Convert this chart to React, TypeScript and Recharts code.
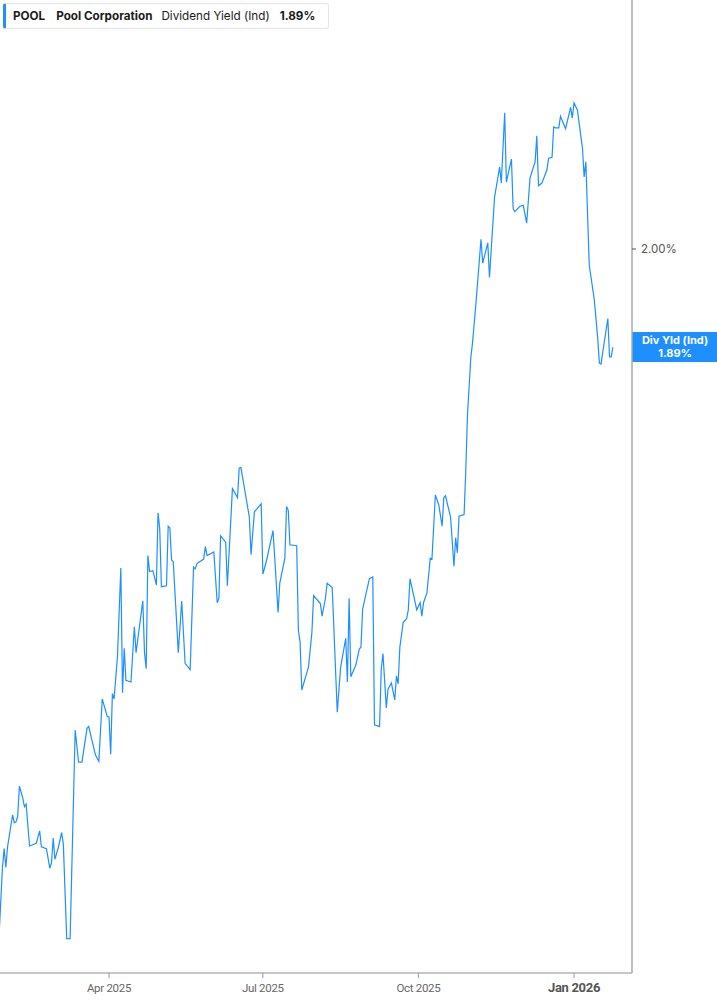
import { LineChart, Line, XAxis, YAxis, ReferenceLine } from 'recharts'

const dates = [
  '2025-01-26', '2025-01-28', '2025-01-29', '2025-01-30', '2025-01-31', '2025-02-03', '2025-02-04', '2025-02-05',
  '2025-02-06', '2025-02-07', '2025-02-09', '2025-02-10', '2025-02-11', '2025-02-13', '2025-02-17', '2025-02-19',
  '2025-02-20', '2025-02-23', '2025-02-25', '2025-02-26', '2025-02-27', '2025-02-28', '2025-03-02', '2025-03-04',
  '2025-03-05', '2025-03-07', '2025-03-09', '2025-03-12', '2025-03-14', '2025-03-16', '2025-03-19', '2025-03-20',
  '2025-03-24', '2025-03-26', '2025-03-28', '2025-03-31', '2025-04-01', '2025-04-02', '2025-04-03', '2025-04-04',
  '2025-04-06', '2025-04-08', '2025-04-09', '2025-04-10', '2025-04-11', '2025-04-14', '2025-04-16', '2025-04-17',
  '2025-04-21', '2025-04-22', '2025-04-23', '2025-04-24', '2025-04-25', '2025-04-27', '2025-04-29', '2025-04-30',
  '2025-05-01', '2025-05-02', '2025-05-05', '2025-05-06', '2025-05-07', '2025-05-08', '2025-05-09', '2025-05-12',
  '2025-05-14', '2025-05-16', '2025-05-19', '2025-05-21', '2025-05-22', '2025-05-23', '2025-05-27', '2025-05-28',
  '2025-05-29', '2025-06-02', '2025-06-04', '2025-06-05', '2025-06-06', '2025-06-09', '2025-06-10', '2025-06-13',
  '2025-06-16', '2025-06-17', '2025-06-18', '2025-06-23', '2025-06-24', '2025-06-26', '2025-06-30', '2025-07-01',
  '2025-07-03', '2025-07-07', '2025-07-10', '2025-07-11', '2025-07-14', '2025-07-15', '2025-07-16', '2025-07-17',
  '2025-07-21', '2025-07-22', '2025-07-23', '2025-07-24', '2025-07-28', '2025-07-30', '2025-07-31', '2025-08-04',
  '2025-08-05', '2025-08-07', '2025-08-08', '2025-08-11', '2025-08-14', '2025-08-16', '2025-08-19', '2025-08-20',
  '2025-08-21', '2025-08-22', '2025-08-25', '2025-08-27', '2025-08-28', '2025-08-29', '2025-09-02', '2025-09-04',
  '2025-09-05', '2025-09-08', '2025-09-09', '2025-09-10', '2025-09-12', '2025-09-13', '2025-09-15', '2025-09-17',
  '2025-09-18', '2025-09-19', '2025-09-20', '2025-09-22', '2025-09-24', '2025-09-25', '2025-09-26', '2025-09-30',
  '2025-10-02', '2025-10-03', '2025-10-04', '2025-10-06', '2025-10-08', '2025-10-09', '2025-10-11', '2025-10-13',
  '2025-10-15', '2025-10-16', '2025-10-17', '2025-10-20', '2025-10-22', '2025-10-23', '2025-10-24', '2025-10-25',
  '2025-10-28', '2025-10-29', '2025-10-30', '2025-11-01', '2025-11-02', '2025-11-04', '2025-11-07', '2025-11-08',
  '2025-11-11', '2025-11-12', '2025-11-15', '2025-11-18', '2025-11-19', '2025-11-21', '2025-11-22', '2025-11-25',
  '2025-11-26', '2025-11-27', '2025-11-30', '2025-12-02', '2025-12-04', '2025-12-06', '2025-12-09', '2025-12-10',
  '2025-12-11', '2025-12-13', '2025-12-16', '2025-12-17', '2025-12-19', '2025-12-20', '2025-12-21', '2025-12-23',
  '2025-12-24', '2025-12-27', '2025-12-30', '2025-12-31', '2026-01-01', '2026-01-03', '2026-01-06', '2026-01-07',
  '2026-01-08', '2026-01-10', '2026-01-13', '2026-01-15', '2026-01-16', '2026-01-17', '2026-01-19', '2026-01-21',
  '2026-01-22', '2026-01-23', '2026-01-24',
]

// dividend yield (ind), percent
const yields = [
  1.230, 1.306, 1.327, 1.306, 1.329, 1.365, 1.356, 1.357,
  1.363, 1.397, 1.384, 1.374, 1.377, 1.330, 1.333, 1.347,
  1.329, 1.327, 1.305, 1.311, 1.339, 1.315, 1.328, 1.345,
  1.332, 1.226, 1.226, 1.460, 1.424, 1.424, 1.462, 1.464,
  1.432, 1.425, 1.495, 1.475, 1.475, 1.433, 1.501, 1.495,
  1.542, 1.642, 1.502, 1.552, 1.516, 1.514, 1.576, 1.547,
  1.605, 1.547, 1.529, 1.656, 1.638, 1.639, 1.623, 1.704,
  1.686, 1.621, 1.622, 1.689, 1.687, 1.651, 1.649, 1.547,
  1.605, 1.535, 1.528, 1.643, 1.641, 1.647, 1.652, 1.666,
  1.656, 1.660, 1.603, 1.608, 1.678, 1.671, 1.622, 1.731,
  1.721, 1.754, 1.755, 1.699, 1.657, 1.705, 1.714, 1.635,
  1.649, 1.684, 1.592, 1.625, 1.653, 1.711, 1.707, 1.668,
  1.667, 1.572, 1.559, 1.505, 1.531, 1.570, 1.611, 1.602,
  1.588, 1.608, 1.625, 1.620, 1.480, 1.531, 1.563, 1.514,
  1.608, 1.520, 1.533, 1.551, 1.553, 1.596, 1.630, 1.632,
  1.466, 1.464, 1.528, 1.546, 1.485, 1.506, 1.513, 1.494,
  1.521, 1.512, 1.553, 1.581, 1.585, 1.595, 1.630, 1.595,
  1.603, 1.588, 1.603, 1.614, 1.653, 1.652, 1.724, 1.713,
  1.689, 1.721, 1.723, 1.699, 1.644, 1.676, 1.659, 1.700,
  1.702, 1.752, 1.814, 1.879, 1.895, 1.939, 2.011, 1.984,
  2.007, 1.968, 2.058, 2.092, 2.074, 2.153, 2.075, 2.101,
  2.045, 2.042, 2.048, 2.049, 2.029, 2.080, 2.098, 2.127,
  2.071, 2.074, 2.089, 2.102, 2.103, 2.137, 2.136, 2.136,
  2.149, 2.135, 2.159, 2.147, 2.164, 2.156, 2.113, 2.081,
  2.098, 1.982, 1.943, 1.900, 1.872, 1.871, 1.897, 1.922,
  1.879, 1.879, 1.890,
]

const xTicks = ['2025-04-01', '2025-07-01', '2025-10-01', '2026-01-01']
const xTickLabels = ['Apr 2025', 'Jul 2025', 'Oct 2025', 'Jan 2026']
const yTicks = [2.0]
const lastYield = 1.89

const toTime = (s: string) => {
  const [y, m, d] = s.split('-').map(Number)
  return Date.UTC(y, m - 1, d)
}

const data = dates.map((d, i) => ({ t: toTime(d), v: yields[i] }))

const BLUE = '#1E8FFF'
const FONT = 'Inter, "Noto Sans", sans-serif'

function XTick({ x, y, payload }: any) {
  const i = xTicks.findIndex(s => toTime(s) === payload.value)
  const isYear = i === xTicks.length - 1
  return (
    <text
      x={x}
      y={y + 12}
      textAnchor="middle"
      fontFamily="Roboto, sans-serif"
      fontSize={isYear ? 13 : 11.5}
      fontWeight={isYear ? 700 : 400}
      fill={isYear ? '#555' : '#666'}
      style={{ letterSpacing: '-0.3px' }}
    >
      {xTickLabels[i]}
    </text>
  )
}

function LastLabel({ viewBox }: any) {
  const x = viewBox.x + viewBox.width
  const y = viewBox.y
  return (
    <g>
      <rect x={x} y={y - 15} width={85} height={30} fill={BLUE} />
      <text x={x + 43} y={y - 3} textAnchor="middle" fill="#fff" fontSize={11} fontWeight={700} fontFamily={FONT}>
        Div Yld (Ind)
      </text>
      <text x={x + 43} y={y + 10} textAnchor="middle" fill="#fff" fontSize={11} fontWeight={700} fontFamily={FONT}>
        {lastYield.toFixed(2)}%
      </text>
    </g>
  )
}

export default function App() {
  return (
    <div style={{ position: 'absolute', left: 0, top: 0, width: 717, height: 1005, background: '#fff' }}>
      <LineChart width={717} height={1005} data={data} margin={{ top: 0, right: 0, bottom: 0, left: 0 }}>
        <XAxis
          dataKey="t"
          type="number"
          scale="time"
          domain={[Date.UTC(2025, 0, 26, 13), Date.UTC(2026, 1, 4, 7)]}
          ticks={xTicks.map(toTime)}
          tick={<XTick />}
          tickSize={5}
          height={32}
          stroke="#b5b5b5"
          tickLine={{ stroke: '#999' }}
          axisLine={{ stroke: '#b5b5b5', strokeWidth: 1.5 }}
          allowDataOverflow
        />
        <YAxis
          orientation="right"
          domain={[1.1874, 2.2795]}
          ticks={yTicks}
          width={85}
          tickSize={4}
          tickMargin={5}
          tickLine={{ stroke: '#555' }}
          axisLine={{ stroke: '#a8a8a8', strokeWidth: 1.5 }}
          tick={{ fontSize: 11.5, fill: '#555', fontFamily: FONT, textAnchor: 'start' }}
          tickFormatter={(v: number) => `${v.toFixed(2)}%`}
          allowDataOverflow
        />
        <ReferenceLine y={lastYield} stroke="none" label={<LastLabel />} />
        <Line
          dataKey="v"
          stroke={BLUE}
          strokeWidth={1.2}
          dot={false}
          activeDot={false}
          type="linear"
          isAnimationActive={false}
        />
      </LineChart>
      <div
        style={{
          position: 'absolute',
          left: 3,
          top: 3,
          width: 326,
          height: 26,
          boxSizing: 'border-box',
          border: '1px solid #e6e6e6',
          borderLeft: `3px solid ${BLUE}`,
          borderRadius: 3,
          background: '#fff',
          display: 'flex',
          alignItems: 'center',
          fontFamily: FONT,
          fontSize: 11.7,
          color: '#1a1a1a',
          whiteSpace: 'nowrap',
        }}
      >
        <span style={{ fontWeight: 700, marginLeft: 7 }}>POOL</span>
        <span style={{ fontWeight: 700, marginLeft: 11 }}>Pool Corporation</span>
        <span style={{ fontWeight: 400, marginLeft: 9 }}>Dividend Yield (Ind)</span>
        <span style={{ fontWeight: 700, marginLeft: 10 }}>1.89%</span>
      </div>
    </div>
  )
}
